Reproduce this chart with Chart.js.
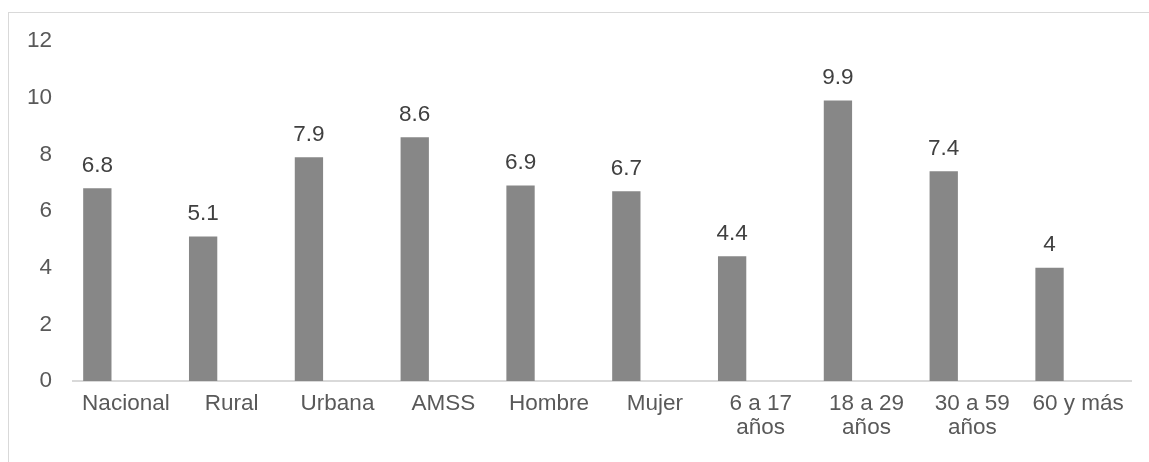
<!DOCTYPE html>
<html>
<head>
<meta charset="utf-8">
<script src="https://cdn.jsdelivr.net/npm/chart.js@4/dist/chart.umd.min.js"></script>
<style>
  html, body { margin: 0; padding: 0; background: #fff; overflow: hidden; }
  #wrap { position: relative; width: 1149px; height: 462px; }
  #frame { position: absolute; left: 8px; top: 12px; width: 1200px; height: 500px; border: 1px solid #d9d9d9; box-sizing: border-box; }
  canvas { position: absolute; left: 0; top: 0; }
</style>
</head>
<body>
<div id="wrap">
  <div id="frame"></div>
  <canvas id="chart" width="1149" height="462"></canvas>
</div>
<script>
// Categorías y valores
const categorias = ['Nacional', 'Rural', 'Urbana', 'AMSS', 'Hombre', 'Mujer',
  ['6 a 17', 'años'], ['18 a 29', 'años'], ['30 a 59', 'años'], '60 y más'];
const valores = [6.8, 5.1, 7.9, 8.6, 6.9, 6.7, 4.4, 9.9, 7.4, 4];
const yTicks = [0, 2, 4, 6, 8, 10, 12];

const fuente = 'Liberation Sans, Arial, sans-serif';

// Etiquetas de valor encima de las barras
const etiquetas = {
  id: 'etiquetas',
  afterDatasetsDraw(chart) {
    const ctx = chart.ctx;
    const meta = chart.getDatasetMeta(0);
    ctx.save();
    ctx.font = '22.5px ' + fuente;
    ctx.fillStyle = '#404040';
    ctx.textAlign = 'center';
    ctx.textBaseline = 'alphabetic';
    meta.data.forEach((bar, i) => {
      ctx.fillText(String(valores[i]), bar.x, bar.y - 16.5);
    });
    ctx.restore();
  }
};

new Chart(document.getElementById('chart'), {
  type: 'bar',
  data: {
    labels: categorias,
    datasets: [{
      data: valores,
      backgroundColor: '#878787',
      borderWidth: 0,
      categoryPercentage: 1.08,
      barPercentage: 0.4955
    }, {
      // segunda serie vacía (deja la barra a la izquierda de cada categoría)
      data: categorias.map(() => null),
      backgroundColor: '#878787',
      categoryPercentage: 1.08,
      barPercentage: 0.4955
    }]
  },
  options: {
    responsive: false,
    animation: false,
    layout: { padding: { left: 0, right: 18, top: 41, bottom: 0 } },
    plugins: { legend: { display: false }, tooltip: { enabled: false } },
    scales: {
      x: {
        grid: { display: false, drawTicks: false },
        border: { display: true, color: '#d9d9d9', width: 2 },
        ticks: {
          color: '#595959',
          font: { family: fuente, size: 22.5, lineHeight: 1.1 },
          padding: 10,
          maxRotation: 0,
          autoSkip: false
        },
        afterFit(scale) { scale.height = 81; }
      },
      y: {
        min: 0,
        max: 12,
        afterBuildTicks(scale) { scale.ticks = yTicks.map(v => ({ value: v })); },
        grid: { display: false, drawTicks: false },
        border: { display: false },
        ticks: {
          color: '#595959',
          font: { family: fuente, size: 22.5 },
          padding: 21
        },
        afterFit(scale) { scale.width = 73; }
      }
    }
  },
  plugins: [etiquetas]
});
</script>
</body>
</html>
